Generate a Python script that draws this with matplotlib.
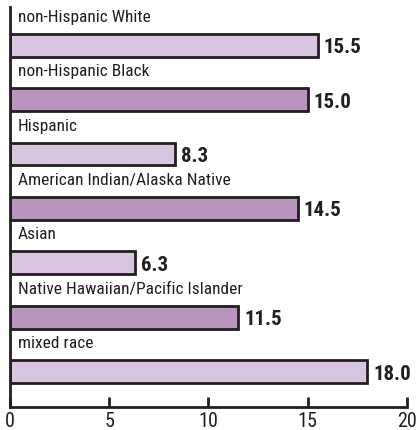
import matplotlib
matplotlib.use("Agg")
import matplotlib.pyplot as plt
from matplotlib import font_manager

categories = ["non-Hispanic White", "non-Hispanic Black", "Hispanic",
              "American Indian/Alaska Native", "Asian",
              "Native Hawaiian/Pacific Islander", "mixed race"]
values = [15.5, 15.0, 8.3, 14.5, 6.3, 11.5, 18.0]
xticks = [0, 5, 10, 15, 20]

names = {f.name for f in font_manager.fontManager.ttflist}
fam = "DejaVu Sans"
for cand in ["Roboto Condensed", "Barlow Semi Condensed", "Archivo Narrow"]:
    if cand in names:
        fam = cand
        break

light = "#d9c5df"
dark = "#b994bd"
edge = "#231f20"

fig = plt.figure(figsize=(4.17, 4.31), dpi=100)
ax = fig.add_axes([10/417, 1 - 408/431, 397/417, 400/431])

ypos = list(range(len(values)))
colors = [light if i % 2 == 0 else dark for i in ypos]
ax.barh(ypos, values, height=0.42, color=colors, edgecolor=edge, linewidth=2)

for y, v, c in zip(ypos, values, categories):
    ax.text(0.4, y - 0.53, c, fontsize=12.5, family=fam, va="center", ha="left", color="#231f20")
    ax.text(v + 0.3, y + 0.03, f"{v:.1f}", fontsize=15, family=fam, fontweight="bold",
            va="center", ha="left", color="#231f20")

ax.set_xlim(0, 20)
ax.set_ylim(6.65, -0.7)
ax.set_xticks(xticks)
ax.set_xticklabels([str(t) for t in xticks], family=fam, fontsize=14.5)
ax.tick_params(axis="x", direction="in", length=7, width=2, pad=3, colors=edge)
ax.set_yticks([])
for s in ["top", "right"]:
    ax.spines[s].set_visible(False)
for s in ["left", "bottom"]:
    ax.spines[s].set_linewidth(2)
    ax.spines[s].set_color(edge)
ax.patch.set_alpha(0)

fig.savefig("out.png", dpi=100)
